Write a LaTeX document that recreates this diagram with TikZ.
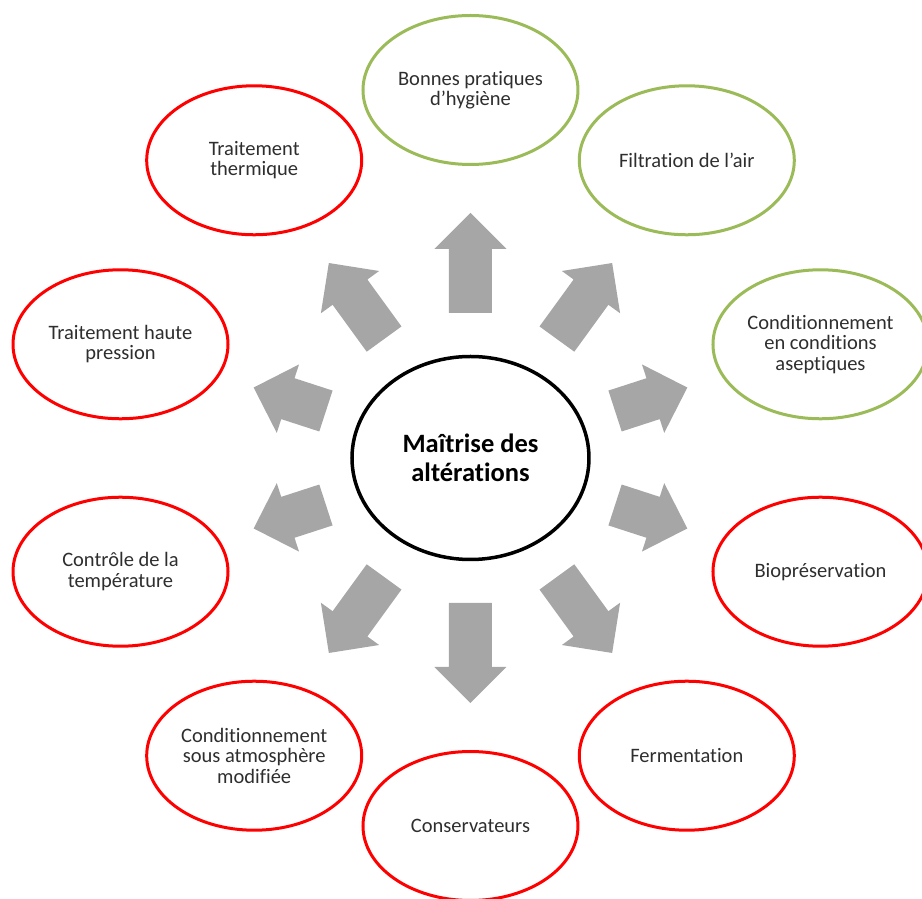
\documentclass[tikz,border=0pt]{standalone}
\usepackage{fontspec}
\setmainfont{Carlito}[Ligatures={NoCommon,NoContextual}, Contextuals=NoAlternate]
\usetikzlibrary{shapes.geometric}
\definecolor{prevention edge}{HTML}{9BBB59}
\definecolor{treatment edge}{HTML}{FF0000}
\definecolor{arrow fill}{HTML}{A6A6A6}
\tikzset{leaf/.style={ellipse, line width=3pt, minimum width=215pt, minimum height=149pt,
		inner sep=0pt, align=center, text=black!82, font=\fontsize{20.5}{20.5}\selectfont},
	hub/.style={ellipse, draw=black, line width=3.5pt, minimum width=237pt, minimum height=203pt,
		inner sep=0pt, align=center, font=\fontsize{26.5}{29}\selectfont\bfseries},
	blockarrow/.style={fill=arrow fill}}

\begin{document}
\begin{tikzpicture}[x=1pt, y=1pt]
		\clip (-470.5,-441) rectangle (451.5,458);
		\node[hub] (hub) at (0,0) {Maîtrise des\\altérations};
		\foreach \ang/\name/\txt/\col in {90/hygiene/{Bonnes pratiques\\d’hygiène}/prevention edge,
			54/air/{Filtration de l’air}/prevention edge,
			18/aseptic/{Conditionnement\\en conditions\\aseptiques}/prevention edge,
			-18/biopres/{Biopréservation}/treatment edge,
			-54/ferment/{Fermentation}/treatment edge,
			-90/preserv/{Conservateurs}/treatment edge,
			-126/atmos/{Conditionnement\\sous atmosphère\\modifiée}/treatment edge,
			-162/temp/{Contrôle de la\\température}/treatment edge,
			162/pressure/{Traitement haute\\pression}/treatment edge,
			126/thermal/{Traitement\\thermique}/treatment edge}
		\node[leaf, draw=\col] (\name) at (\ang:368) {\txt};
		\foreach \ang/\ra/\rb in {90/145/245, 54/147/241, 18/152/228, -18/152/228, -54/147/241,
			-90/145/245, -126/147/241, -162/152/228, 162/152/228, 126/147/241}
		\fill[blockarrow, shift={(hub.center)}, rotate=\ang] (\ra,-21.5) -- (\rb-36,-21.5)
			-- (\rb-36,-36) -- (\rb,0) -- (\rb-36,36) -- (\rb-36,21.5) -- (\ra,21.5) -- cycle;
		\end{tikzpicture}
\end{document}
